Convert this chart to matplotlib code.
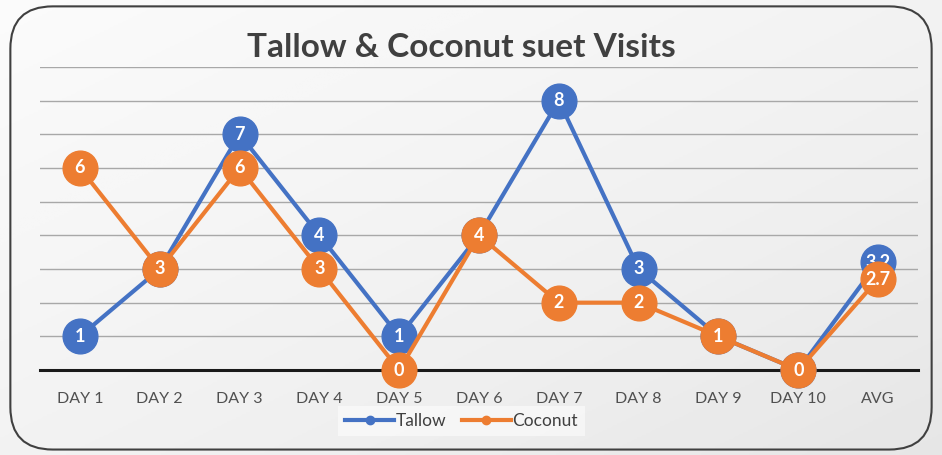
import numpy as np
import matplotlib
matplotlib.use("Agg")
import matplotlib.pyplot as plt
from matplotlib.patches import FancyBboxPatch
from matplotlib.lines import Line2D

categories = ['DAY 1', 'DAY 2', 'DAY 3', 'DAY 4', 'DAY 5', 'DAY 6',
              'DAY 7', 'DAY 8', 'DAY 9', 'DAY 10', 'AVG']
tallow = [1, 3, 7, 4, 1, 4, 8, 3, 1, 0, 3.2]
coconut = [6, 3, 6, 3, 0, 4, 2, 2, 1, 0, 2.7]
tallow_labels = ['1', '3', '7', '4', '1', '4', '8', '3', '1', '0', '3.2']
coconut_labels = ['6', '3', '6', '3', '0', '4', '2', '2', '1', '0', '2.7']

blue = '#4472C4'
orange = '#ED7D31'
plt.rcParams['font.family'] = ['Lato', 'DejaVu Sans']

fig = plt.figure(figsize=(9.42, 4.55), dpi=100)

# background gradient + rounded frame
bg = fig.add_axes([0, 0, 1, 1], zorder=-10)
bg.set_axis_off()
yy, xx = np.mgrid[0:1:200j, 0:1:200j]
grad = 0.5 * yy + 0.5 * xx
bg.imshow(grad, cmap='Greys', vmin=-0.2, vmax=6.5, extent=[0, 1, 0, 1],
          aspect='auto', origin='upper')
bg.set_xlim(0, 1)
bg.set_ylim(0, 1)
frame = FancyBboxPatch((0.011, 0.012), 0.978, 0.974,
                       boxstyle='round,pad=0,rounding_size=0.045',
                       transform=bg.transAxes, fc='none', ec='#404040', lw=1.5,
                       mutation_aspect=942 / 455)
bg.add_patch(frame)

ax = fig.add_axes([0.0425, 0.1868, 0.932, 0.666])
ax.patch.set_alpha(0)
x = np.arange(len(categories))

ax.set_ylim(0, 9)
ax.set_xlim(-0.5, len(categories) - 0.5)
for v in range(1, 10):
    ax.axhline(v, color='#a8a8a8', lw=1, zorder=1)
ax.axhline(0, color='#1a1a1a', lw=2.2, zorder=2, clip_on=False)

ax.plot(x, tallow, color=blue, lw=3, marker='o', ms=25, zorder=3,
        clip_on=False)
ax.plot(x, coconut, color=orange, lw=3, marker='o', ms=25, zorder=5,
        clip_on=False)
for xi, v, s in zip(x, tallow, tallow_labels):
    ax.text(xi, v, s, color='white', fontsize=13, fontweight='bold',
            ha='center', va='center', zorder=4)
for xi, v, s in zip(x, coconut, coconut_labels):
    ax.text(xi, v, s, color='white', fontsize=13, fontweight='bold',
            ha='center', va='center', zorder=6)

ax.set_xticks(x)
ax.set_xticklabels(categories, fontsize=11.5, color='#505050')
ax.tick_params(axis='x', length=0, pad=16)
ax.set_yticks([])
for sp in ax.spines.values():
    sp.set_visible(False)

fig.text(0.49, 0.895, 'Tallow & Coconut suet Visits', ha='center', va='center',
         fontsize=24, fontweight='bold', color='#404040')

handles = [Line2D([0], [0], color=blue, lw=3, marker='o', ms=6),
           Line2D([0], [0], color=orange, lw=3, marker='o', ms=6)]
leg = fig.legend(handles, ['Tallow', 'Coconut'], loc='center',
                 bbox_to_anchor=(0.49, 0.074), ncol=2, frameon=True,
                 fontsize=12.5, handlelength=2.8, handletextpad=0.1,
                 columnspacing=0.9, fancybox=False)
leg.get_frame().set_facecolor('white')
leg.get_frame().set_alpha(0.5)
leg.get_frame().set_edgecolor('none')
for t in leg.get_texts():
    t.set_color('#404040')

fig.savefig('out.png', dpi=100)
